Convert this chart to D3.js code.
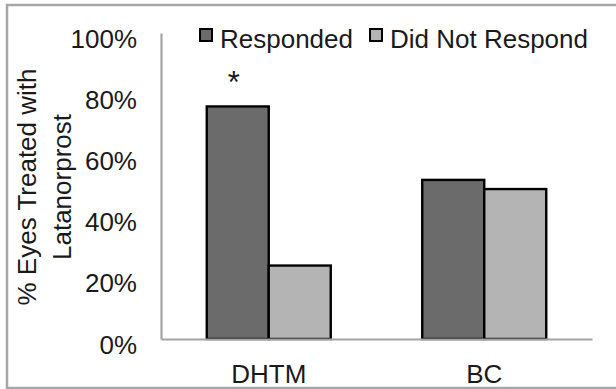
<!DOCTYPE html>
<html>
<head>
<meta charset="utf-8">
<script src="https://cdn.jsdelivr.net/npm/d3@7"></script>
<style>
  html, body { margin: 0; padding: 0; background: #fff; }
  svg { display: block; }
  text { font-family: "Liberation Sans", Arial, sans-serif; fill: #1a1a1a; }
</style>
</head>
<body>
<svg id="chart" width="616" height="389"></svg>
<script>
// Data
const groups = ["DHTM", "BC"];
const seriesNames = ["Responded", "Did Not Respond"];
const responded = [76, 52];
const didNotRespond = [24, 49];
const yTicks = [0, 20, 40, 60, 80, 100];
const yTickLabels = ["0%", "20%", "40%", "60%", "80%", "100%"];
const significance = ["*", ""];

const seriesColors = ["#6b6b6b", "#b4b4b4"];
const axisColor = "#a3a3a3";
const FONT = "26px";

const W = 616, H = 389;
const svg = d3.select("#chart");

// outer frame
svg.append("rect")
  .attr("x", 7).attr("y", 5)
  .attr("width", W + 10).attr("height", 383)
  .attr("fill", "none")
  .attr("stroke", "#a6a6a6")
  .attr("stroke-width", 2.5);

const g = svg.append("g");

const left = 161, right = 592;
const yBase = 339, yTop = 33;

const y = d3.scaleLinear().domain([0, 100]).range([yBase, yTop]);
const x0 = d3.scaleBand().domain(groups).range([left, right]).padding(0);
const x1 = d3.scaleBand().domain(seriesNames)
  .range([0, x0.bandwidth()])
  .paddingInner(0).paddingOuter(0.738);

const rows = groups.map((grp, i) => ({
  group: grp,
  values: [
    { key: seriesNames[0], value: responded[i], color: seriesColors[0] },
    { key: seriesNames[1], value: didNotRespond[i], color: seriesColors[1] }
  ],
  mark: significance[i]
}));

// y axis
const yAxis = g.append("g")
  .attr("transform", `translate(${left},0)`)
  .call(d3.axisLeft(y).tickValues(yTicks)
    .tickFormat((d, i) => yTickLabels[i])
    .tickSize(0).tickSizeOuter(0).tickPadding(24));
yAxis.select(".domain").attr("stroke", axisColor).attr("stroke-width", 2.2);
yAxis.selectAll("text")
  .attr("dy", null).attr("y", 14)
  .style("font-size", FONT).style("font-family", null)
  .attr("fill", "#1a1a1a");

// bars
const grpSel = g.selectAll("g.grp").data(rows).join("g")
  .attr("class", "grp")
  .attr("transform", d => `translate(${x0(d.group)},0)`);

grpSel.selectAll("rect").data(d => d.values).join("rect")
  .attr("x", d => x1(d.key))
  .attr("width", x1.bandwidth())
  .attr("y", d => y(d.value))
  .attr("height", d => yBase - y(d.value))
  .attr("fill", d => d.color)
  .attr("stroke", "#000")
  .attr("stroke-width", 2.4);

// significance marker above the first bar
grpSel.filter(d => d.mark).append("text")
  .attr("x", d => x1(seriesNames[0]) + x1.bandwidth() / 2 - 4)
  .attr("y", d => y(d.values[0].value) - 13)
  .attr("text-anchor", "middle")
  .style("font-size", "31px")
  .text(d => d.mark);

// x axis (baseline + category labels)
const xAxis = g.append("g")
  .attr("transform", `translate(0,${yBase})`)
  .call(d3.axisBottom(x0).tickSize(0).tickSizeOuter(0).tickPadding(0));
xAxis.select(".domain").attr("stroke", axisColor).attr("stroke-width", 2.2);
xAxis.selectAll("text")
  .attr("dy", null).attr("y", 44)
  .style("font-size", FONT).style("font-family", null)
  .attr("fill", "#1a1a1a");

// y axis title
const title = g.append("text")
  .attr("transform", `translate(36,187) rotate(-90)`)
  .attr("text-anchor", "middle")
  .style("font-size", FONT);
title.append("tspan").attr("x", 0).attr("dy", 0).text("% Eyes Treated with");
title.append("tspan").attr("x", 0).attr("dy", 35).text("Latanorprost");

// legend
const legendX = [200, 370];
const legend = g.selectAll("g.leg").data(seriesNames).join("g")
  .attr("class", "leg")
  .attr("transform", (d, i) => `translate(${legendX[i]},0)`);
legend.append("rect")
  .attr("x", 0).attr("y", 29)
  .attr("width", 12).attr("height", 12)
  .attr("fill", (d, i) => seriesColors[i])
  .attr("stroke", "#000").attr("stroke-width", 2);
legend.append("text")
  .attr("x", 20).attr("y", 48)
  .style("font-size", FONT)
  .text(d => d);
</script>
</body>
</html>
